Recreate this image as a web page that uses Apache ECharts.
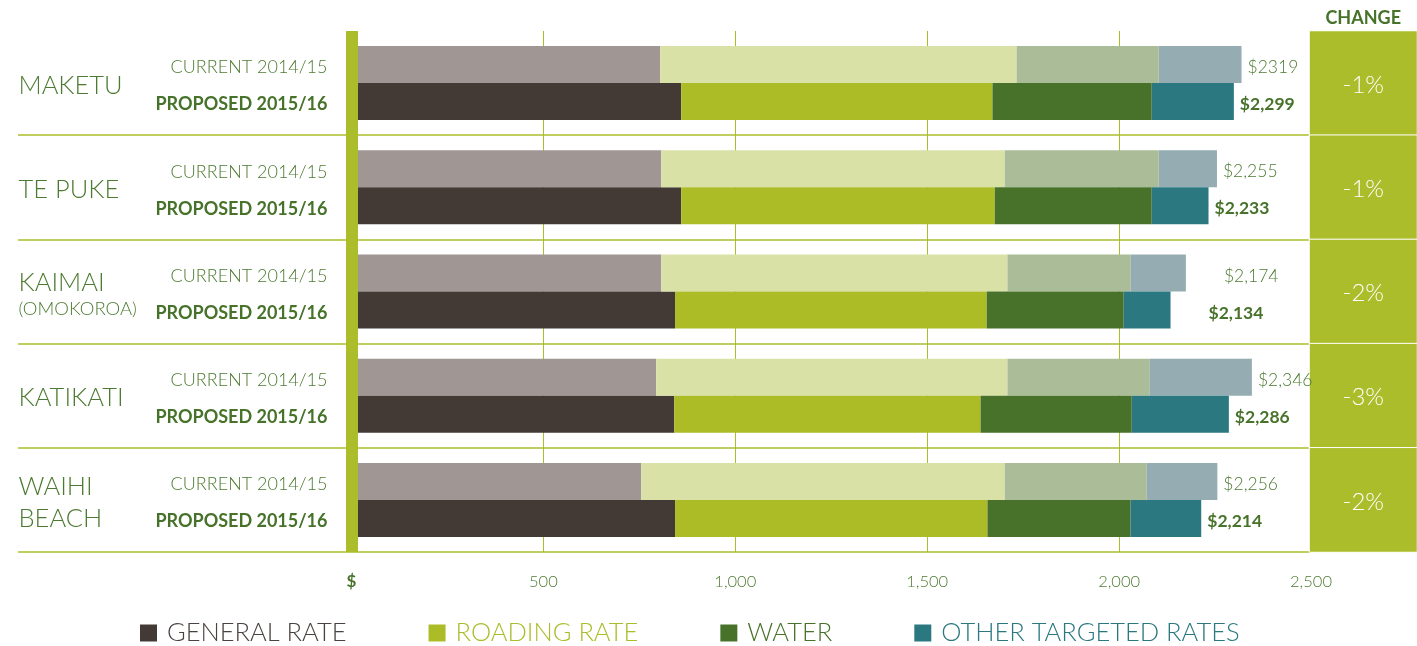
<!DOCTYPE html>
<html>
<head>
<meta charset="utf-8">
<script src="https://cdn.jsdelivr.net/npm/echarts@6/dist/echarts.min.js"></script>
<style>
  html, body { margin: 0; padding: 0; background: #ffffff; }
  #chart { width: 1417px; height: 646px; }
</style>
</head>
<body>
<div id="chart"></div>
<script>
// Districts, top to bottom
const districts = ['MAKETU', 'TE PUKE', 'KAIMAI\n(OMOKOROA)', 'KATIKATI', 'WAIHI\nBEACH'];

// Current 2014/15 rates by component ($)
const generalCurrent = [804, 807, 807, 794, 755];
const roadingCurrent = [929, 895, 902, 915, 947];
const waterCurrent   = [370, 401, 321, 371, 370];
const otherCurrent   = [216, 152, 144, 266, 184];
const currentTotals  = ['$2319', '$2,255', '$2,174', '$2,346', '$2,256'];

// Proposed 2015/16 rates by component ($)
const generalProposed = [859, 859, 843, 841, 843];
const roadingProposed = [811, 817, 812, 798, 814];
const waterProposed   = [415, 409, 357, 394, 373];
const otherProposed   = [214, 148, 122, 253, 184];
const proposedTotals  = ['$2,299', '$2,233', '$2,134', '$2,286', '$2,214'];

// Percentage change per district
const changePct = [-1, -1, -2, -3, -2];

const rowLabels = ['CURRENT 2014/15', 'PROPOSED 2015/16'];
const legendNames = ['GENERAL RATE', 'ROADING RATE', 'WATER', 'OTHER TARGETED RATES'];

const FONT = 'Lato, "Open Sans", sans-serif';
const GREEN_TEXT = '#4d7a31';
const GREEN_DARK = '#46722a';
const LIME = '#abbd2a';

// extra room before the total label where the bar is short of the column
const totalGap = [6, 6, 38, 6, 6];

function withGap(arr) {
  return arr.map((v, i) => ({ value: v, label: { distance: totalGap[i] } }));
}

function bar(name, stack, data, color, extra) {
  return Object.assign({
    type: 'bar', name, stack, data,
    xAxisIndex: 0, yAxisIndex: 0,
    barWidth: 37, barGap: '0%',
    itemStyle: { color },
    emphasis: { disabled: true },
    animation: false
  }, extra || {});
}

const currentLabelStyle = {
  show: true, position: 'left', distance: 24, offset: [0, 3],
  fontFamily: FONT, fontSize: 18, fontWeight: 300, color: GREEN_TEXT
};

const series = [
  bar('GENERAL RATE 2014/15', 'cur', generalCurrent, '#a09694', {
    label: Object.assign({}, currentLabelStyle, { formatter: rowLabels[0] }),
    markLine: {
      silent: true, symbol: 'none', animation: false,
      lineStyle: { color: LIME, width: 12, type: 'solid' },
      label: { show: false },
      data: [{ xAxis: 0 }]
    }
  }),
  bar('GENERAL RATE', 'pro', generalProposed, '#433a36', {
    label: Object.assign({}, currentLabelStyle, {
      formatter: rowLabels[1], fontWeight: 'bold', color: GREEN_DARK
    })
  }),
  bar('ROADING RATE 2014/15', 'cur', roadingCurrent, '#d9e1a7'),
  bar('ROADING RATE', 'pro', roadingProposed, '#abbc27'),
  bar('WATER 2014/15', 'cur', waterCurrent, '#aabd98'),
  bar('WATER', 'pro', waterProposed, '#48722a'),
  bar('OTHER TARGETED RATES 2014/15', 'cur', withGap(otherCurrent), '#95adb2', {
    label: {
      show: true, position: 'right', offset: [0, 3],
      fontFamily: FONT, fontSize: 17.5, fontWeight: 300, color: GREEN_TEXT,
      formatter: p => currentTotals[p.dataIndex]
    }
  }),
  bar('OTHER TARGETED RATES', 'pro', withGap(otherProposed), '#2b7880', {
    label: {
      show: true, position: 'right', offset: [0, 3],
      fontFamily: FONT, fontSize: 17.5, fontWeight: 'bold', color: GREEN_DARK,
      formatter: p => proposedTotals[p.dataIndex]
    }
  }),
  // change column
  {
    type: 'heatmap',
    xAxisIndex: 2, yAxisIndex: 2,
    data: changePct.map((v, i) => [0, i, v]),
    itemStyle: { color: LIME, borderColor: '#ffffff', borderWidth: 1 },
    label: {
      show: true, color: '#ffffff', fontFamily: FONT, fontSize: 24, fontWeight: 300,
      offset: [0, 2],
      formatter: p => p.value[2] + '%'
    },
    emphasis: { disabled: true },
    animation: false
  }
];

const option = {
  backgroundColor: '#ffffff',
  animation: false,
  textStyle: { fontFamily: FONT },
  grid: [
    { left: 351.5, right: 106, top: 31, bottom: 94 },   // bars
    { left: 18, right: 106, top: 31, bottom: 94 },      // row rules
    { left: 1309.5, right: -2, top: 31, bottom: 94 }    // change column
  ],
  xAxis: [
    {
      gridIndex: 0, type: 'value', min: 0, max: 2500, interval: 500,
      axisLine: { show: false }, axisTick: { show: false },
      splitLine: { show: true, lineStyle: { color: LIME, width: 1 } },
      axisLabel: {
        margin: 21, fontFamily: FONT, fontSize: 16.5, fontWeight: 300, color: GREEN_TEXT,
        formatter: v => v === 0 ? '{d|$}' : v.toLocaleString('en-US'),
        rich: { d: { fontFamily: FONT, fontSize: 17, fontWeight: 'bold', color: GREEN_DARK } }
      }
    },
    {
      gridIndex: 1, type: 'value', min: 0, max: 1, show: false
    },
    {
      gridIndex: 2, type: 'category', data: ['CHANGE'], position: 'top',
      axisLine: { show: false }, axisTick: { show: false }, splitLine: { show: false },
      axisLabel: {
        margin: 4, fontFamily: FONT, fontSize: 18, fontWeight: 'bold', color: GREEN_DARK
      }
    }
  ],
  yAxis: [
    {
      gridIndex: 0, type: 'category', data: districts, inverse: true,
      axisLine: { show: false }, axisTick: { show: false }, splitLine: { show: false },
      axisLabel: {
        margin: 333, align: 'left',
        formatter: v => v.split('\n').map(l => l.startsWith('(') ? `{b|${l}}` : `{a|${l}}`).join('\n'),
        rich: {
          a: { fontFamily: FONT, fontSize: 25.5, fontWeight: 300, color: GREEN_TEXT, lineHeight: 32, padding: [5, 0, 0, 0] },
          b: { fontFamily: FONT, fontSize: 18.5, fontWeight: 300, color: GREEN_TEXT, lineHeight: 22, padding: [3, 0, 0, 0] }
        }
      }
    },
    {
      gridIndex: 1, type: 'category', data: districts, inverse: true,
      axisLine: { show: false }, axisTick: { show: false }, axisLabel: { show: false },
      splitLine: {
        show: true, interval: (i) => i !== 0,
        lineStyle: { color: LIME, width: 1.5 }
      }
    },
    {
      gridIndex: 2, type: 'category', data: districts, inverse: true, show: false
    }
  ],
  legend: {
    left: 140, top: 620, padding: 0,
    icon: 'rect', itemWidth: 17, itemHeight: 17, itemGap: 82,
    selectedMode: false,
    textStyle: { fontFamily: FONT, fontSize: 25.5, fontWeight: 300, padding: [0, 0, 0, 5] },
    data: [
      { name: legendNames[0], textStyle: { color: '#4a423f' } },
      { name: legendNames[1], textStyle: { color: '#abbd2a' } },
      { name: legendNames[2], textStyle: { color: '#48722a' } },
      { name: legendNames[3], textStyle: { color: '#2b7880' } }
    ]
  },
  series
};

const chart = echarts.init(document.getElementById('chart'), null, { renderer: 'canvas' });
chart.setOption(option);
</script>
</body>
</html>
